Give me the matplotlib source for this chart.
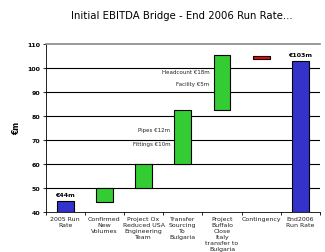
import matplotlib.pyplot as plt
import numpy as np

categories = ["2005 Run\nRate", "Confirmed\nNew\nVolumes", "Project Ox\nReduced USA\nEngineering\nTeam",
              "Transfer\nSourcing\nTo\nBulgaria", "Project\nBuffalo\nClose\nItaly\ntransfer to\nBulgaria",
              "Contingency", "End2006\nRun Rate"]
bar_bottom = [40, 44, 50, 60, 82.5, 103.5, 40]
bar_top = [44.5, 50, 60, 82.5, 105.5, 105, 103]
colors = ["#3333cc", "#33cc33", "#33cc33", "#33cc33", "#33cc33", "#ff0000", "#3333cc"]

fig = plt.figure(figsize=(3.25, 2.53), dpi=100)
ax = fig.add_axes([0.14, 0.16, 0.845, 0.663])

x = np.arange(len(categories))
heights = [t - b for t, b in zip(bar_top, bar_bottom)]
ax.bar(x, heights, bottom=bar_bottom, width=0.43, color=colors, edgecolor="black", linewidth=0.8, zorder=3)

for yy in range(50, 110, 10):
    ax.axhline(yy, color="black", linewidth=0.8, zorder=1)

ax.set_xlim(-0.5, len(categories) - 0.5)
ax.set_ylim(40, 110)
ax.set_yticks(range(40, 111, 10))
ax.tick_params(axis="y", labelsize=4.5, length=2, width=0.6, pad=2)
for lab in ax.get_yticklabels():
    lab.set_fontweight("bold")
ax.set_xticks(x)
ax.set_xticklabels(categories, fontsize=4.5, linespacing=1.25, va="top", color="#222222")
ax.tick_params(axis="x", length=0, pad=3)
ax.set_xticks(np.arange(-0.5, len(categories), 1), minor=True)
ax.tick_params(axis="x", which="minor", length=2.5, width=0.6)

ax.spines["top"].set_color("#888888")
ax.spines["top"].set_linewidth(1.2)
ax.spines["right"].set_visible(False)
ax.spines["left"].set_linewidth(0.6)
ax.spines["bottom"].set_linewidth(0.6)

ax.set_ylabel("€m", fontsize=5.5, fontweight="bold", labelpad=4)

ax.text(0, bar_top[0] + 1.5, "€44m", fontsize=4.5, fontweight="bold", ha="center", va="bottom")
ax.text(6, bar_top[6] + 1.5, "€103m", fontsize=4.5, fontweight="bold", ha="center", va="bottom")
ax.text(3.68, 98.5, "Headcount €18m", fontsize=4, ha="right", va="center", color="#222222")
ax.text(3.68, 93.3, "Facility €5m", fontsize=4, ha="right", va="center", color="#222222")
ax.text(2.68, 74.3, "Pipes €12m", fontsize=4, ha="right", va="center", color="#222222")
ax.text(2.68, 68.3, "Fittings €10m", fontsize=4, ha="right", va="center", color="#222222")

fig.text(0.56, 0.935, "Initial EBITDA Bridge - End 2006 Run Rate...", fontsize=7.3, ha="center", va="center")

fig.savefig("out.png", dpi=100)
